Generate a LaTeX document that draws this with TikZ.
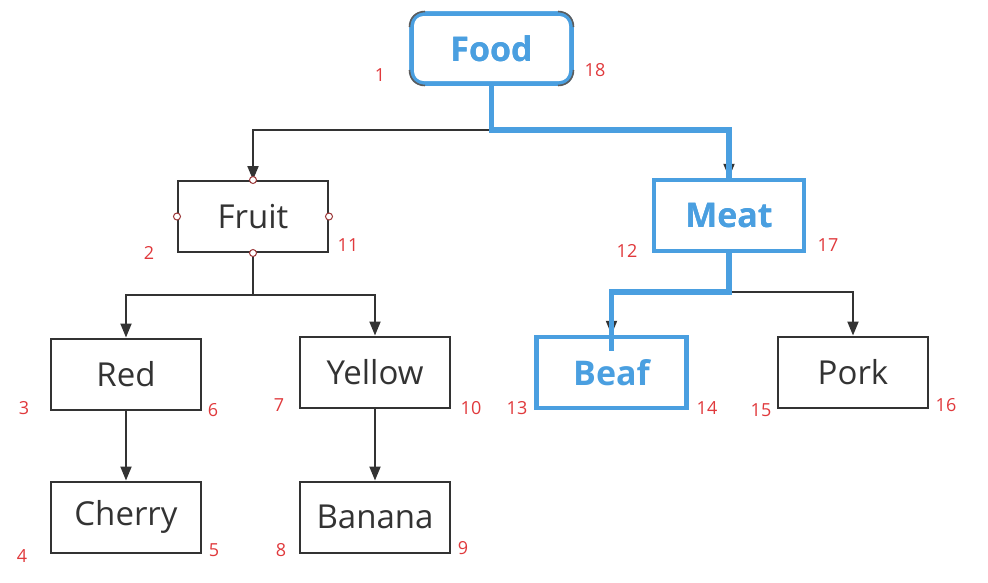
\documentclass[tikz,border=0pt]{standalone}
\usepackage{fontspec}
\setmainfont{Open Sans}
\usetikzlibrary{arrows.meta}
\definecolor{hblue}{HTML}{4A9FE0}
\definecolor{lblred}{HTML}{E0393C}
\definecolor{ink}{HTML}{333333}
\tikzset{
  box/.style={draw=ink, line width=2pt, minimum width=150pt, minimum height=71pt, inner sep=0pt, text=ink, font=\fontsize{33}{33}\selectfont},
  hbox/.style={box, draw=hblue, line width=4.5pt, text=hblue, font=\fontsize{34}{34}\selectfont\bfseries},
  edge/.style={draw=ink, line width=2pt, -{Triangle[length=14pt,width=11pt]}},
  hedge/.style={draw=hblue, line width=5.5pt},
  cornermark/.style={draw=ink!80, line width=1.6pt},
  num/.style={text=lblred, font=\fontsize{18}{18}\selectfont, inner sep=0pt},
  handle/.style={circle, draw=lblred!60!ink, fill=white, line width=1pt, minimum size=7pt, inner sep=0pt}
}
\begin{document}
\begin{tikzpicture}[x=1pt,y=-1pt]
\useasboundingbox (0,0) rectangle (988,582);
% nodes
\node[hbox, rounded corners=12pt, minimum width=160pt, minimum height=70pt] (food) at (491.5,48.5) {Food};
\node[box] (fruit) at (253,216.5) {Fruit};
\node[hbox] (meat) at (729,215.5) {Meat};
\node[box] (red) at (126,374) {Red};
\node[box] (yellow) at (375,372) {Yellow};
\node[hbox] (beaf) at (611.5,372.5) {Beaf};
\node[box] (pork) at (853,372) {Pork};
\node[box] (cherry) at (126,517) {Cherry};
\node[box] (banana) at (375,517) {Banana};
% junction coordinates
\coordinate (j0) at (491.5,130);
\coordinate (j1) at (253,295);
\coordinate (j2) at (729,292);
% black connectors
\draw[edge] (food.south) -- (j0) -| (fruit.north);
\draw[edge] (j0) -| (meat.north);
\draw[edge] (fruit.south) -- (j1) -| (red.north);
\draw[edge] (j1) -| (yellow.north);
\draw[edge] (meat.south) -- (j2) -| (beaf.north);
\draw[edge] (j2) -| (pork.north);
\draw[edge] (red.south) -- (cherry.north);
\draw[edge] (yellow.south) -- (banana.north);
% highlighted path
\draw[hedge] (food.south) -- (j0) -| (meat.north);
\draw[hedge] (meat.south) -- (j2) -| ([yshift=-16pt]beaf.north);
% redraw highlighted boxes on top
\node[hbox, rounded corners=12pt, minimum width=160pt, minimum height=70pt] at (food) {Food};
\node[hbox] at (meat) {Meat};
% dark corner marks of the selected Food box
\draw[cornermark] (409.5,27) .. controls (409.5,18) and (416,11.5) .. (425,11.5);
\draw[cornermark] (558,11.5) .. controls (567,11.5) and (573.5,18) .. (573.5,27);
\draw[cornermark] (409.5,70) .. controls (409.5,79) and (416,85.5) .. (425,85.5);
\draw[cornermark] (558,85.5) .. controls (567,85.5) and (573.5,79) .. (573.5,70);
% handles on Fruit
\foreach \a in {north,south,east,west} \node[handle] at (fruit.\a) {};
% number labels
\node[num] (n1) at (380,75) {1};
\node[num] (n18) at (595,70) {18};
\node[num] (n2) at (149,253) {2};
\node[num] (n11) at (348,245) {11};
\node[num] (n12) at (627,251) {12};
\node[num] (n17) at (828,245) {17};
\node[num] (n3) at (24,408) {3};
\node[num] (n6) at (213,410) {6};
\node[num] (n7) at (279,405) {7};
\node[num] (n10) at (471,408) {10};
\node[num] (n13) at (517,408) {13};
\node[num] (n14) at (707,408) {14};
\node[num] (n15) at (761,410) {15};
\node[num] (n16) at (946,405) {16};
\node[num] (n4) at (22,556) {4};
\node[num] (n5) at (214,550) {5};
\node[num] (n8) at (281,550) {8};
\node[num] (n9) at (463,548) {9};
\end{tikzpicture}
\end{document}
